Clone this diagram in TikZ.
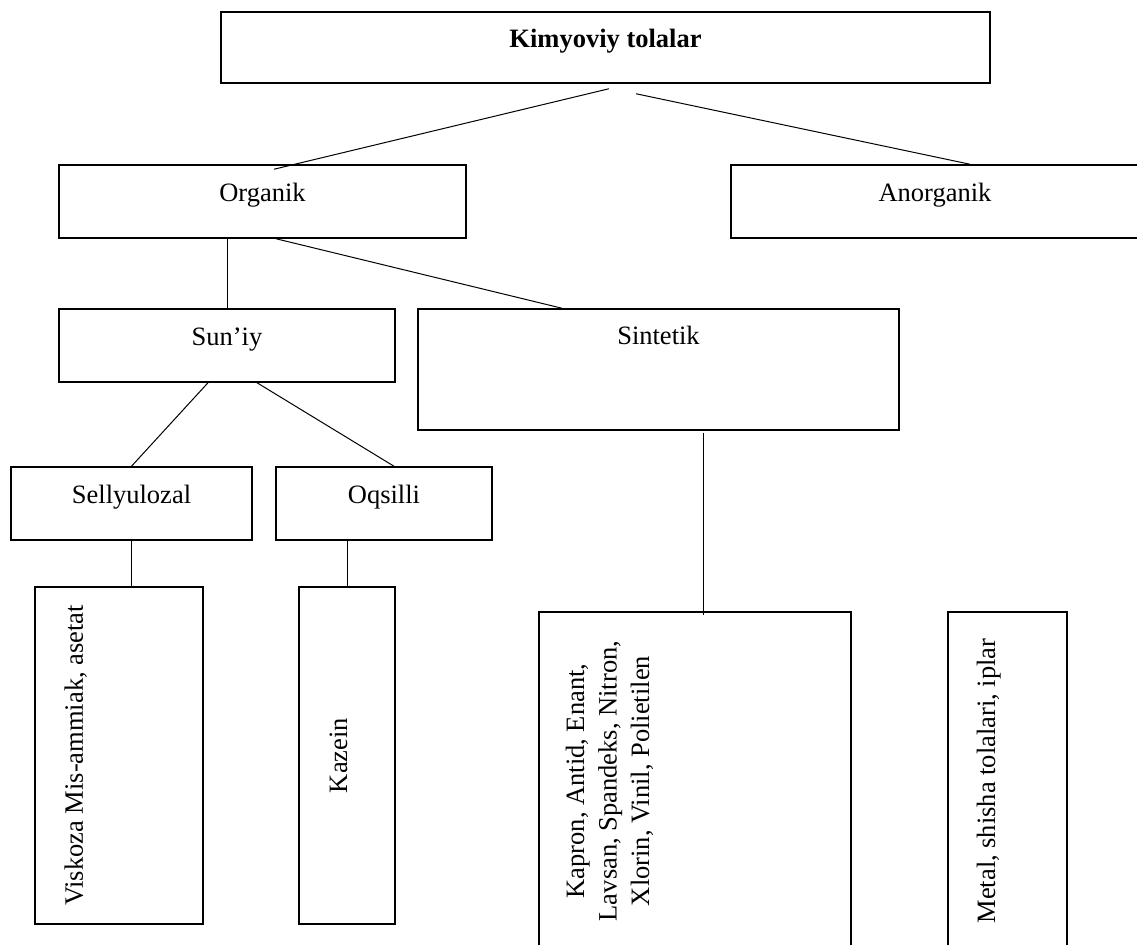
\documentclass[tikz,border=0pt]{standalone}
\usepackage{fontspec}
\setmainfont{Liberation Serif}
\usetikzlibrary{calc}

\tikzset{
    box/.style={draw, line width=0.75pt, inner sep=0pt, text height=9pt, text depth=9pt},
    tallbox/.style={box, rotate=90},
    link/.style={line width=0.5pt},
}

\begin{document}
\begin{tikzpicture}[x=0.5pt, y=0.5pt, font=\fontsize{13.25}{16.25}\selectfont]
    \useasboundingbox (0,0) rectangle (1137,-945);

    \node[box, minimum width=384.5pt, minimum height=35.5pt] (kim) at (605.5,-47.5) {\bfseries Kimyoviy tolalar};
    \node[box, minimum width=203.5pt, minimum height=36.5pt] (org) at (262.5,-201.5) {Organik};
    \node[box, minimum width=204pt, minimum height=36.5pt] (anorg) at (935,-201.5) {Anorganik};
    \node[box, minimum width=168pt, minimum height=36.5pt] (sun) at (227,-345.5) {Sun’iy};
    \node[box, minimum width=240.5pt, minimum height=60.5pt, text depth=33.5pt] (sin) at (658.5,-369.5) {Sintetik};
    \node[box, minimum width=120.5pt, minimum height=36.5pt] (sel) at (131.5,-503.5) {Sellyulozal};
    \node[box, minimum width=108pt, minimum height=36.5pt] (oqs) at (384,-503.5) {Oqsilli};

    \node[tallbox, minimum width=168.5pt, minimum height=84pt, text depth=45pt] (vis) at (119,-755.5) {Viskoza Mis-ammiak, asetat};
    \node[tallbox, minimum width=168.5pt, minimum height=48pt] (kaz) at (347,-755.5) {Kazein};
    \node[tallbox, minimum width=169pt, minimum height=156pt, text height=0pt, text depth=46pt, align=center] (kap) at (695,-781)
        {Kapron, Antid, Enant,\\ Lavsan, Spandeks, Nitron,\\ Xlorin, Vinil, Polietilen};
    \node[tallbox, minimum width=169pt, minimum height=59.5pt, text depth=21.5pt] (met) at (1007.5,-781) {Metal, shisha tolalari, iplar};

    \draw[link] ($(kim.south)+(3.5,-5)$) -- ($(org.north)+(11.5,-5)$);
    \draw[link] ($(kim.south)+(30.5,-10)$) -- ($(anorg.north)+(35,0)$);
    \draw[link] (sun.north |- org.south) -- (sun.north);
    \draw[link] ($(org.south)+(13.5,0)$) -- ($(sin.north)+(-96.5,0)$);
    \draw[link] ($(met.east)+(-12.5,0)$) -- ($(met.east)+(-12.5,0)$ |- anorg.south);
    \draw[link] ($(sun.south)+(-19,0)$) -- (sel.north);
    \draw[link] ($(sun.south)+(30,0)$) -- ($(oqs.north)+(10,0)$);
    \draw[link] (sel.south) -- (sel.south |- vis.east);
    \draw[link] (kaz.east |- oqs.south) -- (kaz.east);
    \draw[link] ($(kap.east)+(8,-4)$) -- ($(kap.east)+(8,178)$);
\end{tikzpicture}
\end{document}
